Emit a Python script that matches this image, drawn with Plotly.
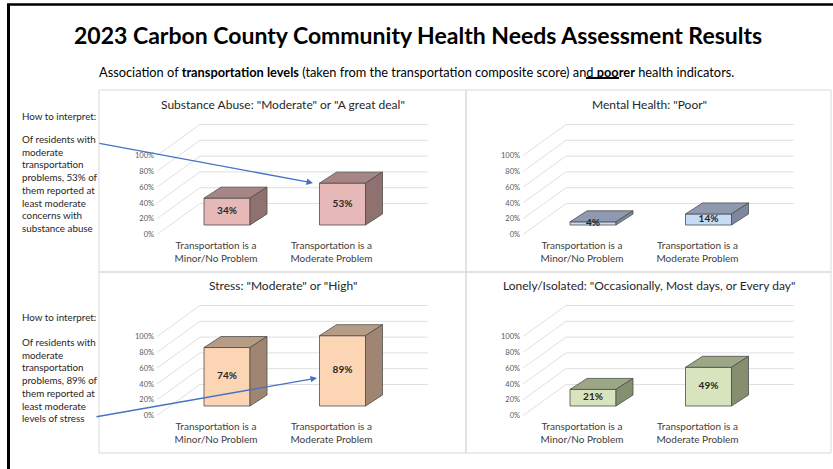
import plotly.graph_objects as go

W, H = 833, 469

# ---------------- data ----------------
categories = ["Transportation is a<br>Minor/No Problem", "Transportation is a<br>Moderate Problem"]
panel_titles = ['Substance Abuse: "Moderate" or "A great deal"',
                'Mental Health: "Poor"',
                'Stress: "Moderate" or "High"',
                'Lonely/Isolated: "Occasionally, Most days, or Every day"']
substance = [34, 53]
mental = [4, 14]
stress = [74, 89]
lonely = [21, 49]
tick_values = [0, 20, 40, 60, 80, 100]
tick_labels = ["0%", "20%", "40%", "60%", "80%", "100%"]

# ---------------- styles / geometry ----------------
panel_colors = [  # front, top, side
    ("#e6b9b8", "#a58685", "#8f7170"),
    ("#c6dbf5", "#8f9ab0", "#7d889e"),
    ("#fcd5b5", "#b79c85", "#a08672"),
    ("#d7e4bd", "#9ba785", "#858f70"),
]
EDGE = "#4d4d4d"
GRID = "#e0e0e0"
FONT = "Lato"

U = 115.5      # px per category unit
S = 0.79       # px per percent
L0 = 216       # px of first category (floor front), top-left panel
Y0 = 234.5     # px of 0% line (front), top-left panel
offsets = [(0, 0), (366, 0), (0, 181), (366, 181)]
DOM_X = (155, 432)
DOM_Y = (120, 238)

GX0 = (157 - L0) / U
GX1 = (200 - L0) / U
GX2 = (428 - L0) / U
GDY = 31 / S
BAR_W = 46 / U
BAR_SHIFT = 11 / U
BASE = 9.5 / S
DDX = 17 / U
DDY = 11 / S

series = [substance, mental, stress, lonely]

fig = go.Figure()
layout = dict(width=W, height=H, margin=dict(l=0, r=0, t=0, b=0),
              paper_bgcolor="white", plot_bgcolor="rgba(0,0,0,0)",
              showlegend=False, font=dict(family=FONT, color="#404040"))
shapes = []
annotations = []

def px(x):
    return x / W

def py(y):
    return 1 - y / H

panel_boxes = [(99, 90, 466, 272), (466, 90, 831, 272), (99, 272, 466, 453), (466, 272, 831, 453)]

for k, vals in enumerate(series):
    ox, oy = offsets[k]
    sfx = "" if k == 0 else str(k + 1)
    xa, ya = "x" + sfx, "y" + sfx
    front, top, side = panel_colors[k]
    layout["xaxis" + sfx] = dict(
        domain=[px(DOM_X[0] + ox), px(DOM_X[1] + ox)],
        range=[(DOM_X[0] - L0) / U, (DOM_X[1] - L0) / U],
        anchor=ya, tickvals=[0, 1], ticktext=categories,
        showgrid=False, zeroline=False, showline=False, ticks="",
        tickfont=dict(size=10, color="#404040", family=FONT), fixedrange=True)
    layout["yaxis" + sfx] = dict(
        domain=[py(DOM_Y[1] + oy), py(DOM_Y[0] + oy)],
        range=[-(DOM_Y[1] - Y0) / S, (Y0 - DOM_Y[0]) / S],
        anchor=xa, tickvals=tick_values, ticktext=tick_labels,
        showgrid=False, zeroline=False, showline=False, ticks="",
        tickfont=dict(size=7.5, color="#595959", family=FONT), fixedrange=True)

    # 3D gridlines (side wall diagonal + back wall horizontal)
    for t in tick_values:
        shapes.append(dict(type="path", xref=xa, yref=ya, layer="below",
                           path=f"M {GX0},{t} L {GX1},{t + GDY} L {GX2},{t + GDY}",
                           line=dict(color=GRID, width=1)))

    # front faces
    fig.add_trace(go.Bar(x=[0, 1], y=vals, base=BASE, width=BAR_W,
                         offset=BAR_SHIFT - BAR_W / 2,
                         marker=dict(color=front, line=dict(color=EDGE, width=0.8)),
                         xaxis=xa, yaxis=ya, hoverinfo="skip"))
    # top and side faces
    tx, ty, sx, sy = [], [], [], []
    for i, v in enumerate(vals):
        xl = i + BAR_SHIFT - BAR_W / 2
        xr = i + BAR_SHIFT + BAR_W / 2
        tx += [xl, xr, xr + DDX, xl + DDX, xl, None]
        ty += [BASE + v, BASE + v, BASE + v + DDY, BASE + v + DDY, BASE + v, None]
        sx += [xr, xr + DDX, xr + DDX, xr, xr, None]
        sy += [BASE, BASE + DDY, BASE + v + DDY, BASE + v, BASE, None]
    fig.add_trace(go.Scatter(x=tx, y=ty, mode="lines", fill="toself", fillcolor=top,
                             line=dict(color=EDGE, width=0.8), xaxis=xa, yaxis=ya,
                             hoverinfo="skip"))
    fig.add_trace(go.Scatter(x=sx, y=sy, mode="lines", fill="toself", fillcolor=side,
                             line=dict(color=EDGE, width=0.8), xaxis=xa, yaxis=ya,
                             hoverinfo="skip"))
    # value labels
    fig.add_trace(go.Scatter(x=[i + BAR_SHIFT for i in range(len(vals))],
                             y=[BASE + v / 2 for v in vals],
                             text=[f"<b>{v}%</b>" for v in vals], mode="text",
                             textfont=dict(size=10, color="#262626", family=FONT),
                             xaxis=xa, yaxis=ya, hoverinfo="skip", cliponaxis=False))

    # panel frame & title
    bx0, by0, bx1, by1 = panel_boxes[k]
    shapes.append(dict(type="rect", xref="paper", yref="paper", layer="below",
                       x0=px(bx0), x1=px(bx1), y0=py(by1), y1=py(by0),
                       line=dict(color="#d9d9d9", width=1)))
    annotations.append(dict(text=panel_titles[k], xref="paper", yref="paper",
                            x=px(283 + ox), y=py(104 + oy), showarrow=False,
                            xanchor="center", yanchor="middle",
                            font=dict(size=12, color="#262626", family=FONT)))

# page frame
shapes.append(dict(type="line", xref="paper", yref="paper", x0=px(8.5), x1=px(8.5),
                   y0=py(4), y1=py(469), line=dict(color="black", width=3)))
shapes.append(dict(type="line", xref="paper", yref="paper", x0=px(7), x1=px(833),
                   y0=py(4.5), y1=py(4.5), line=dict(color="black", width=2.5)))
# underline in subtitle
shapes.append(dict(type="rect", xref="paper", yref="paper", x0=px(586), x1=px(619),
                   y0=py(79), y1=py(77), fillcolor="black", line=dict(width=0)))

annotations.append(dict(text="<b>2023 Carbon County Community Health Needs Assessment Results</b>",
                        xref="paper", yref="paper", x=px(418), y=py(35), showarrow=False,
                        xanchor="center", yanchor="middle",
                        font=dict(size=23, color="black", family=FONT)))
annotations.append(dict(text="Association of <b>transportation levels</b> (taken from the transportation "
                             "composite score) and <b>poorer</b> health indicators.",
                        xref="paper", yref="paper", x=px(416), y=py(71.5), showarrow=False,
                        xanchor="center", yanchor="middle",
                        font=dict(size=12.8, color="black", family=FONT)))

notes = [
    (116, 138, "Of residents with<br>moderate<br>transportation<br>problems, 53% of<br>"
               "them reported at<br>least moderate<br>concerns with<br>substance abuse"),
    (317, 341, "Of residents with<br>moderate<br>transportation<br>problems, 89% of<br>"
               "them reported at<br>least moderate<br>levels of stress"),
]
for hy, by, body in notes:
    annotations.append(dict(text="How to interpret:", xref="paper", yref="paper",
                            x=px(20), y=py(hy), showarrow=False, xanchor="left",
                            yanchor="middle", font=dict(size=9.8, color="#262626", family=FONT)))
    annotations.append(dict(text=body, xref="paper", yref="paper", align="left",
                            x=px(20), y=py(by - 7), showarrow=False, xanchor="left",
                            yanchor="top", font=dict(size=9.8, color="#262626", family=FONT)))

# arrows
for (hx, hy), (tx_, ty_) in [((313, 183), (98, 143)), ((317, 378), (95, 417))]:
    annotations.append(dict(text="", xref="paper", yref="paper", x=px(hx), y=py(hy),
                            ax=tx_ - hx, ay=ty_ - hy, axref="pixel", ayref="pixel",
                            showarrow=True, arrowhead=2, arrowsize=1, arrowwidth=1.3,
                            arrowcolor="#4472c4", standoff=0))

layout["shapes"] = shapes
layout["annotations"] = annotations
fig.update_layout(**layout)
fig.write_html("out.html", config={"displayModeBar": False, "staticPlot": True},
               post_script="document.body.style.margin='0';document.body.style.overflow='hidden';")
